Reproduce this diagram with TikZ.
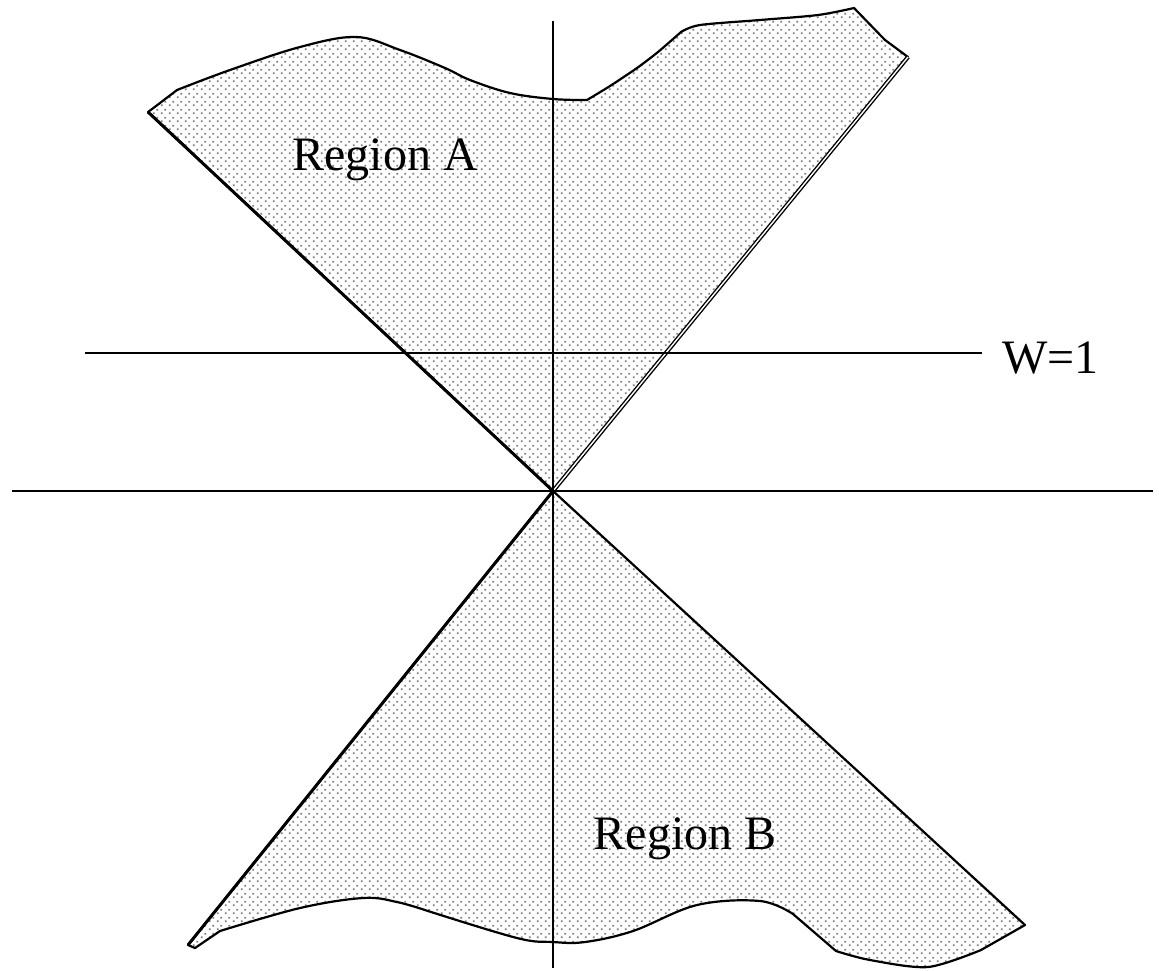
\documentclass[tikz,border=0pt]{standalone}
\usepackage{fontspec}
\setmainfont{Liberation Serif}
\usetikzlibrary{patterns.meta}
\definecolor{dotgray}{RGB}{125,125,125}
\tikzdeclarepattern{
  name=stipple,
  type=uncolored,
  bounding box={(0pt,0pt) and (4pt,4pt)},
  tile size={(4pt,4pt)},
  code={
    \fill (0.5pt,0.5pt) rectangle (1.5pt,1.5pt);
    \fill (2.5pt,2.5pt) rectangle (3.5pt,3.5pt);
  }
}

\begin{document}
\begin{tikzpicture}[x=0.5pt,y=-0.5pt,
    axis/.style={line width=1.1pt},
    cone/.style={pattern=stipple,pattern color=dotgray,draw,line width=1.1pt,line join=round},
    edge/.style={line width=1.5pt},
    dbl/.style={line width=0.7pt,double,double distance=0.7pt},
    lbl/.style={font=\fontsize{24}{28}\selectfont,inner sep=0pt,anchor=base}]
  \useasboundingbox (0,0) rectangle (1159,970);
  \coordinate (o) at (553,491);
  \coordinate (ltop) at (148,112);
  \coordinate (rtop) at (908,57);
  \coordinate (lbot) at (188,945);
  \coordinate (rbot) at (1025,925);
  % upper region
  \path[cone] (ltop) -- (o) -- (rtop) -- (885,40) -- (854,8)
    -- plot[smooth,tension=0.5] coordinates {(854,8) (818,15) (760,20) (700,25) (681,32)}
    -- plot[smooth,tension=0.4] coordinates {(681,32) (658,52) (637,68) (610,86) (587,100)}
    -- plot[smooth,tension=0.6] coordinates {(587,100) (553,99) (510,93) (470,80) (445,68) (400,50) (356,37) (300,47) (230,70) (177,90)}
    -- (160,103) -- cycle;
  \draw[edge] (ltop) -- (o);
  \draw[dbl] (o) -- (rtop);
  % lower region
  \path[cone] (lbot) -- (o) -- (rbot) -- (981,950)
    -- plot[smooth,tension=0.5] coordinates {(981,950) (928,967) (870,960) (836,951)}
    -- (793,914)
    -- plot[smooth,tension=0.6] coordinates {(793,914) (760,901) (697,905) (633,931) (585,942) (553,942) (517,938) (428,911)}
    -- plot[smooth,tension=0.6] coordinates {(428,911) (397,902) (363,898) (300,908) (220,931)}
    -- (195,948) -- cycle;
  \draw[edge] (lbot) -- (o);
  % axes
  \coordinate (vtop) at (553,21);
  \coordinate (vbot) at (553,968);
  \coordinate (hleft) at (12,491);
  \coordinate (hright) at (1153,491);
  \coordinate (wstart) at (85,353);
  \coordinate (wend) at (982,353);
  \draw[axis] (vtop) -- (vbot);
  \draw[axis] (hleft) -- (hright);
  \draw[axis] (wstart) -- (wend);
  \node[lbl] (rega) at (385,170) {Region A};
  \node[lbl] (regb) at (685,849) {Region B};
  \node[lbl,anchor=base west] (wone) at (1002,373) {W=1};
\end{tikzpicture}
\end{document}
